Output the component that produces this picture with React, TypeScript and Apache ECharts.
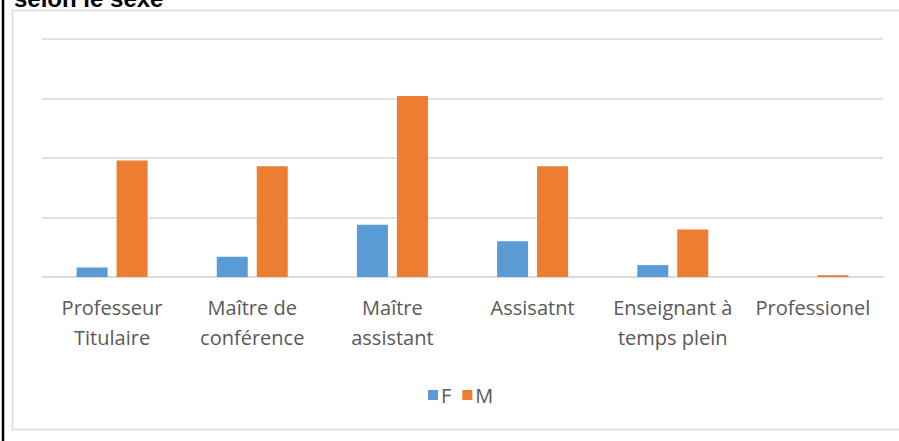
import React, { useEffect, useRef } from "react";
import * as echarts from "echarts";

const categories = [
  "Professeur\nTitulaire",
  "Maître de\nconférence",
  "Maître\nassistant",
  "Assisatnt",
  "Enseignant à\ntemps plein",
  "Professionel",
];
const seriesF = [8, 17, 44, 30, 10, 0];
const seriesM = [98, 93, 152, 93, 40, 1.5];
const titleText = "selon le sexe";

export default function App() {
  const ref = useRef<HTMLDivElement>(null);
  useEffect(() => {
    if (!ref.current) return;
    const chart = echarts.init(ref.current, null, { renderer: "svg" });
    const font = "'Open Sans', Lato, sans-serif";
    chart.setOption({
      animation: false,
      backgroundColor: "#ffffff",
      graphic: [
        {
          type: "rect",
          shape: { x: 12.5, y: 10.5, width: 900, height: 419 },
          style: { fill: "none", stroke: "#d9d9d9", lineWidth: 1.5 },
          silent: true,
        },
        {
          type: "line",
          shape: { x1: 3, y1: 0, x2: 3, y2: 441 },
          style: { stroke: "#000000", lineWidth: 2.5 },
          silent: true,
        },
        {
          type: "text",
          x: 14,
          y: 10,
          style: {
            text: titleText,
            font: "bold 24px 'Liberation Sans', Arial, sans-serif",
            fill: "#000000",
            verticalAlign: "bottom",
            align: "left",
          },
        },
      ],
      legend: {
        data: ["F", "M"],
        left: 423,
        top: 380,
        itemWidth: 10,
        itemHeight: 10,
        itemGap: 11,
        icon: "rect",
        textStyle: { fontSize: 20, color: "#595959", fontFamily: font, padding: [0, 0, 0, -2] },
      },
      grid: { left: 42, right: 16, top: 39, bottom: 164 },
      xAxis: {
        type: "category",
        data: categories,
        axisLine: { lineStyle: { color: "#d9d9d9", width: 1.5 } },
        axisTick: { show: false },
        axisLabel: {
          interval: 0,
          margin: 15,
          fontSize: 20,
          lineHeight: 30,
          color: "#595959",
          fontFamily: font,
        },
      },
      yAxis: {
        type: "value",
        min: 0,
        max: 200,
        interval: 50,
        axisLabel: { show: false },
        axisLine: { show: false },
        axisTick: { show: false },
        splitLine: { lineStyle: { color: "#d9d9d9", width: 1.5 } },
      },
      series: [
        {
          name: "F",
          type: "bar",
          data: seriesF,
          barWidth: 31,
          barGap: "29%",
          itemStyle: { color: "#5B9BD5" },
        },
        {
          name: "M",
          type: "bar",
          data: seriesM,
          barWidth: 31,
          itemStyle: { color: "#ED7D31" },
        },
      ],
    });
    return () => chart.dispose();
  }, []);
  return (
    <div
      ref={ref}
      style={{ position: "absolute", left: 0, top: 0, width: 899, height: 441 }}
    />
  );
}
